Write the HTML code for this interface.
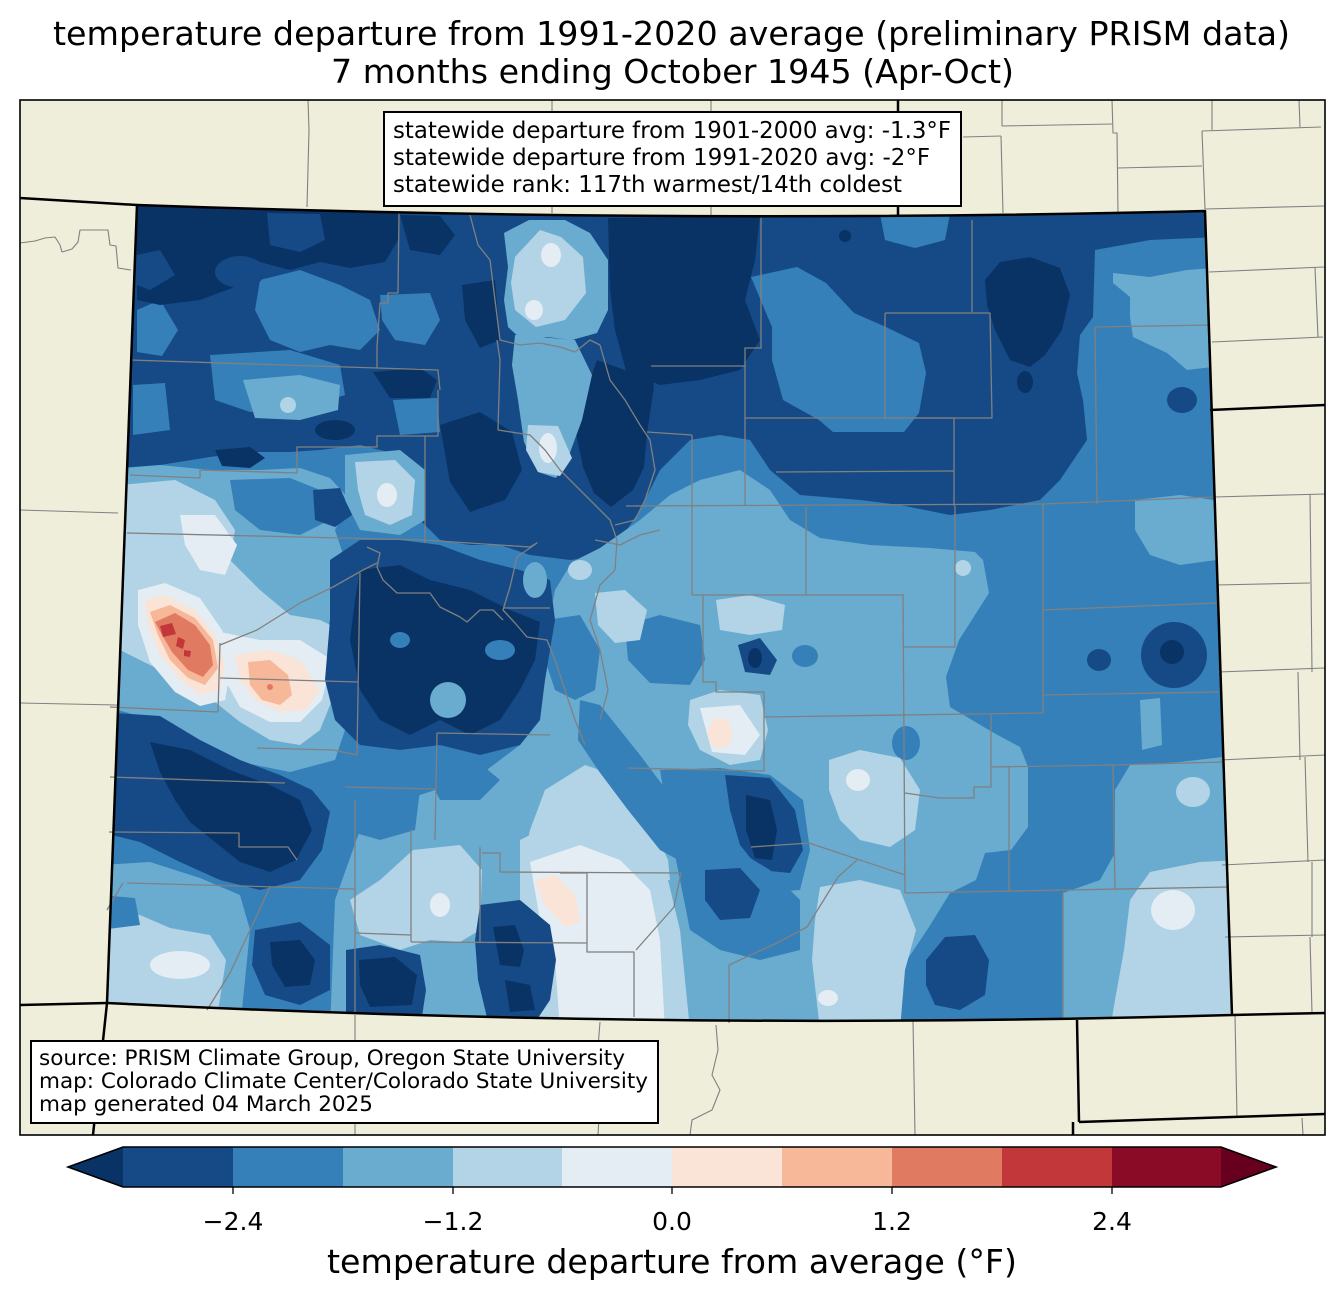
<!DOCTYPE html>
<html><head><meta charset="utf-8"><style>
html,body{margin:0;padding:0;background:#fff;}
svg{display:block;}
text{font-family:"DejaVu Sans","Liberation Sans",sans-serif;fill:#000;}
</style></head><body>
<svg xmlns="http://www.w3.org/2000/svg" width="1344" height="1299" viewBox="0 0 1344 1299">
<rect width="1344" height="1299" fill="#fff"/>
<text x="671.5" y="45" font-size="33" text-anchor="middle" textLength="1237" lengthAdjust="spacingAndGlyphs">temperature departure from 1991-2020 average (preliminary PRISM data)</text>
<text x="672.5" y="83" font-size="33" text-anchor="middle" textLength="683" lengthAdjust="spacingAndGlyphs">7 months ending October 1945 (Apr-Oct)</text>
<rect x="20" y="100" width="1305" height="1035" fill="#efeedb"/>
<defs><clipPath id="co"><path d="M137,205 Q671,224 1205,211 L1232,1015 Q671,1031 107,1003 Z"/></clipPath></defs>
<g clip-path="url(#co)">
<rect x="90" y="190" width="1160" height="850" fill="#3580b9"/>
<!-- L1 north -->
<polygon fill="#164a86" points="90,190 1240,190 1240,236 1150,240 1095,250 1093,317 1080,335 1077,373 1083,400 1087,440 1060,480 1040,500 990,510 950,515 900,505 860,500 800,495 770,470 750,440 720,435 690,440 660,470 640,510 610,555 570,560 530,555 500,545 470,545 440,540 420,520 400,455 360,445 320,450 290,452 250,452 210,457 160,465 90,470"/>
<!-- L2 north patches -->
<g fill="#3580b9">
<polygon points="260,280 300,270 340,285 370,300 380,330 360,350 330,345 300,352 270,340 255,310"/>
<polygon points="137,310 160,300 178,330 162,356 137,352"/>
<polygon points="210,355 290,350 340,365 345,395 300,410 250,412 215,400"/>
<polygon points="133,385 165,383 170,430 133,435"/>
<polygon points="393,400 437,398 440,432 400,435"/>
<polygon points="380,295 430,293 440,320 425,345 395,340 382,320"/>
<polygon points="751,277 797,267 826,283 854,313 886,327 919,343 926,373 919,413 904,432 833,432 819,420 783,400 772,360 772,327"/>
<polygon points="880,214 950,214 945,240 915,248 885,240"/>
</g>
<!-- L0 north -->
<g fill="#093265">
<polygon points="137,205 400,213 398,240 385,262 350,268 320,262 290,270 260,262 240,285 200,300 160,305 137,300"/>
<polygon points="400,215 440,216 455,235 440,255 410,250"/>
<polygon points="462,285 495,280 500,340 480,348 465,320"/>
<polygon points="373,372 420,368 437,380 430,398 390,398"/>
<polygon points="215,450 250,447 265,458 250,468 222,466"/>
<ellipse cx="335" cy="430" rx="20" ry="10"/>
<polygon points="440,425 480,412 512,432 522,470 505,500 470,512 450,482"/>
<polygon points="608,218 760,216 755,260 745,300 760,340 740,370 700,380 660,385 626,371 615,330 610,290"/>
<polygon points="597,360 633,373 651,367 654,387 647,433 644,467 633,490 611,507 594,493 583,467 576,433 579,400 590,380"/>
<polygon points="985,280 1000,262 1030,257 1060,268 1070,295 1062,330 1045,355 1030,367 1010,360 995,330 987,305"/>
<ellipse cx="1025" cy="382" rx="8" ry="11"/>
<circle cx="845" cy="236" r="6"/>
</g>
<!-- L1 patches in NW dark band -->
<g fill="#164a86">
<polygon points="267,213 320,214 325,240 300,252 270,245"/>
<ellipse cx="240" cy="272" rx="25" ry="16"/>
<polygon points="137,255 160,250 175,275 150,290 137,285"/>
</g>
<!-- NE light -->
<polygon fill="#6aacd0" points="1113,273 1150,277 1187,270 1212,268 1212,367 1187,370 1167,353 1133,337 1130,317 1130,297 1113,283"/>
<ellipse fill="#164a86" cx="1182" cy="400" rx="15" ry="13"/>
<!-- plume -->
<g fill="#6aacd0">
<polygon points="504,233 529,220 565,220 590,233 608,260 608,310 597,333 572,340 547,337 522,340 508,327 504,300 508,267"/>
<polygon points="515,335 575,340 592,375 582,420 568,458 556,478 538,472 524,442 518,400 512,365"/>
<polygon points="243,380 300,375 340,385 338,410 300,420 255,418"/>
</g>
<g fill="#b3d4e6">
<polygon points="515,257 540,230 561,237 583,257 586,293 565,320 536,327 515,310 511,283"/>
<polygon points="528,425 558,426 572,458 560,476 538,472 526,450"/>
<ellipse cx="288" cy="405" rx="8" ry="8"/>
</g>
<g fill="#e3edf3">
<ellipse cx="551" cy="255" rx="10" ry="12"/>
<ellipse cx="534" cy="310" rx="9" ry="10"/>
<ellipse cx="548" cy="448" rx="9" ry="15"/>
</g>
<!-- central-east L3 -->
<polygon fill="#6aacd0" points="600,548 640,520 670,495 700,480 740,470 770,490 790,520 820,538 870,545 930,548 975,552 983,560 989,593 959,640 946,677 950,707 994,733 1020,747 1028,767 1028,827 1011,850 985,853 976,880 950,893 929,927 907,960 894,993 894,1030 330,1030 335,900 360,830 420,795 480,775 520,745 540,700 545,640 555,590 572,562"/>
<!-- east -->
<g fill="#6aacd0">
<polygon points="1135,500 1180,495 1214,500 1216,560 1180,565 1150,555 1135,530"/>
<polygon points="1240,755 1180,762 1130,765 1115,790 1115,853 1100,880 1063,893 1063,1030 1240,1030"/>
<polygon points="1140,700 1160,698 1162,745 1142,750"/>
</g>
<g fill="#b3d4e6">
<polygon points="1240,860 1200,862 1150,872 1130,900 1124,950 1115,1000 1110,1030 1240,1030"/>
<ellipse cx="1193" cy="792" rx="17" ry="15"/>
<ellipse cx="963" cy="568" rx="8" ry="8"/>
</g>
<ellipse fill="#e3edf3" cx="1173" cy="910" rx="22" ry="20"/>
<g fill="#164a86">
<ellipse cx="1174" cy="655" rx="33" ry="33"/>
<ellipse cx="1099" cy="660" rx="12" ry="11"/>
<polygon points="926,960 945,937 975,935 989,960 985,995 960,1010 935,1005 926,985"/>
</g>
<ellipse fill="#093265" cx="1172" cy="652" rx="12" ry="12"/>
<!-- central features -->
<g fill="#3580b9">
<polygon points="625,625 660,615 700,625 705,660 690,685 650,683 628,660"/>
<ellipse cx="805" cy="656" rx="13" ry="11"/>
<ellipse cx="906" cy="743" rx="14" ry="17"/>
<polygon points="660,770 720,768 770,775 803,800 810,850 800,890 760,893 720,880 690,860 670,830 665,800"/>
<polygon points="545,620 580,615 600,650 595,690 575,700 555,690 545,660"/>
</g>
<g fill="#b3d4e6">
<polygon points="716,600 750,595 785,605 782,630 750,635 720,630"/>
<polygon points="690,700 720,690 760,695 768,730 760,760 730,765 700,750 688,725"/>
<polygon points="829,760 860,750 900,758 920,790 915,830 890,847 860,840 840,820 829,790"/>
<polygon points="595,593 625,590 647,610 640,640 615,643 598,625"/>
<ellipse cx="580" cy="570" rx="12" ry="10"/>
<polygon points="545,790 585,765 615,775 645,810 668,860 670,880 520,880 530,830"/>
</g>
<polygon fill="#3580b9" points="580,700 600,705 640,755 670,795 692,840 682,862 660,850 628,810 598,770 578,740"/>
<g fill="#164a86">
<polygon points="738,645 760,638 777,660 770,675 745,672"/>
<polygon points="725,775 770,778 795,810 803,850 790,873 760,870 740,845 730,810"/>
</g>
<g fill="#093265">
<ellipse cx="755" cy="658" rx="7" ry="10"/>
<polygon points="746,795 770,800 777,830 772,860 755,858 746,830"/>
</g>
<polygon fill="#e3edf3" points="700,708 740,705 760,735 745,755 712,752"/>
<ellipse fill="#f9e4d7" cx="720" cy="733" rx="12" ry="15"/>
<ellipse fill="#e3edf3" cx="858" cy="780" rx="12" ry="11"/>
<!-- south -->
<polygon fill="#b3d4e6" points="520,840 560,820 600,828 640,850 668,880 680,930 690,1030 500,1030 510,960 520,900"/>
<polygon fill="#e3edf3" points="530,862 580,845 620,860 650,890 660,940 665,1030 560,1030 555,960 540,920"/>
<polygon fill="#f9e4d7" points="535,880 555,875 575,895 580,922 565,927 545,905"/>
<polygon fill="#b3d4e6" points="413,850 460,845 482,870 480,930 460,942 430,940 400,950 360,935 350,900 380,880"/>
<ellipse fill="#e3edf3" cx="440" cy="905" rx="10" ry="12"/>
<polygon fill="#3580b9" points="670,830 720,840 770,870 800,900 800,950 760,960 720,950 690,930 680,880"/>
<polygon fill="#164a86" points="705,870 740,868 760,890 750,918 720,920 705,900"/>
<polygon fill="#b3d4e6" points="820,887 860,880 900,890 916,930 905,970 900,1030 820,1030 812,960 815,920"/>
<ellipse fill="#e3edf3" cx="828" cy="998" rx="10" ry="8"/>
<g fill="#3580b9">
<polygon points="340,780 380,770 420,790 415,830 380,840 345,830"/>
<polygon points="420,760 470,755 500,780 480,800 440,800"/>
</g>
<!-- west light -->
<polygon fill="#6aacd0" points="100,470 160,465 210,470 260,470 300,468 330,478 350,500 335,530 345,560 335,600 325,640 335,690 345,730 335,760 290,772 240,762 200,742 160,722 100,705"/>
<polygon fill="#3580b9" points="230,480 290,478 320,490 330,520 300,535 260,530 235,510"/>
<polygon fill="#164a86" points="313,490 340,488 352,515 335,527 315,520"/>
<polygon fill="#6aacd0" points="345,455 400,450 425,470 425,520 400,535 360,530 345,500"/>
<polygon fill="#b3d4e6" points="355,462 395,460 415,480 412,515 390,525 365,515 358,490"/>
<ellipse fill="#e3edf3" cx="387" cy="495" rx="10" ry="12"/>
<polygon fill="#b3d4e6" points="120,485 175,480 215,500 235,530 230,560 260,590 290,615 320,620 345,632 332,652 332,700 320,730 300,745 270,740 240,722 215,702 190,690 160,670 120,650"/>
<g fill="#e3edf3">
<polygon points="180,515 215,515 237,545 225,575 200,570 185,545"/>
<polygon points="138,590 165,583 200,598 222,630 232,662 225,700 200,706 175,692 150,662 138,625"/>
<polygon points="220,632 260,640 300,640 332,660 322,700 300,722 270,722 240,707 225,680"/>
</g>
<g fill="#f9e4d7">
<polygon points="145,600 165,595 195,610 215,635 225,665 220,690 200,695 180,680 160,655 148,625"/>
<polygon points="235,655 270,650 300,660 320,690 305,710 280,712 255,700 240,680"/>
</g>
<g fill="#f7b799">
<polygon points="150,612 170,605 195,618 213,640 218,668 205,685 188,678 170,660 158,635"/>
<polygon points="248,662 270,660 288,675 292,695 280,705 262,700 250,685"/>
</g>
<polygon fill="#e07b62" points="155,622 175,613 195,625 210,645 213,665 203,677 188,670 172,652 162,635"/>
<circle fill="#e07b62" cx="270" cy="687" r="3"/>
<g fill="#c1373a">
<polygon points="160,626 172,623 176,634 163,637"/>
<polygon points="178,637 185,640 183,649 176,646"/>
<polygon points="184,650 191,651 190,657 184,656"/>
</g>
<!-- central-west dark -->
<polygon fill="#164a86" points="330,560 360,540 400,540 440,545 480,560 520,570 550,580 555,620 545,680 540,720 520,745 480,755 440,745 400,750 360,745 335,720 325,680 330,620"/>
<polygon fill="#093265" points="360,570 400,565 430,580 470,590 510,610 540,622 535,660 520,690 500,720 470,735 440,720 410,735 380,720 360,690 350,640 355,600"/>
<ellipse fill="#6aacd0" cx="448" cy="700" rx="18" ry="18"/>
<ellipse fill="#3580b9" cx="500" cy="650" rx="15" ry="10"/>
<ellipse fill="#3580b9" cx="400" cy="640" rx="10" ry="8"/>
<ellipse fill="#6aacd0" cx="535" cy="580" rx="12" ry="18"/>
<!-- SW dark -->
<polygon fill="#164a86" points="100,712 160,716 200,740 240,760 280,775 312,790 330,812 322,850 300,880 260,890 220,880 180,862 140,842 100,832"/>
<polygon fill="#093265" points="150,742 190,750 230,770 270,785 300,800 312,830 296,860 270,872 240,862 215,842 190,822 175,800 160,772"/>
<!-- SW bottom -->
<polygon fill="#6aacd0" points="100,865 150,862 200,878 240,895 250,930 240,1030 100,1030"/>
<polygon fill="#b3d4e6" points="100,920 140,915 170,928 210,935 226,960 215,1030 100,1030"/>
<ellipse fill="#e3edf3" cx="180" cy="965" rx="30" ry="14"/>
<polygon fill="#3580b9" points="100,895 135,898 140,925 100,930"/>
<polygon fill="#164a86" points="255,930 300,922 330,945 330,990 300,1005 265,995 252,965"/>
<polygon fill="#093265" points="270,942 300,940 315,960 310,985 285,987 272,965"/>
<!-- south dark blobs -->
<g fill="#164a86">
<polygon points="480,905 520,900 550,925 556,960 550,1000 530,1030 490,1030 478,980 475,940"/>
<polygon points="346,950 380,945 420,955 426,990 420,1030 346,1030"/>
</g>
<g fill="#093265">
<polygon points="493,927 515,925 524,950 520,967 500,965"/>
<polygon points="505,980 530,985 535,1010 510,1012"/>
<polygon points="359,960 395,957 417,975 412,1005 370,1007 360,985"/>
</g>
</g>
<!-- county lines inside CO -->
<g fill="none" stroke="#808080" stroke-width="1.3" stroke-linejoin="round">
<polyline points="130,360 377,368 438,370 440,390"/>
<polyline points="377,368 377,347 380,303 388,303 388,293 398,293 399,213"/>
<polyline points="130,475 200,478 200,470 297,473 297,447 377,447 377,436 438,436 438,390"/>
<polyline points="425,436 425,543"/>
<polyline points="127,533 300,537 423,540 530,547"/>
<polyline points="530,547 537,543 517,557 510,587 503,610 515,623 527,637 547,640 555,660 565,690 575,720 585,745"/>
<polyline points="503,608 550,608"/>
<polyline points="367,547 380,553 377,567 383,580 397,593 430,593 440,607 460,617 467,622 480,610 493,610 503,620"/>
<polyline points="360,573 357,755"/>
<polyline points="220,645 257,630 300,603 333,587 363,570 377,563"/>
<polyline points="220,643 218,712"/>
<polyline points="110,707 218,712"/>
<polyline points="220,678 358,682"/>
<polyline points="110,777 285,783"/>
<polyline points="257,748 333,750 357,755"/>
<polyline points="437,733 550,735"/>
<polyline points="437,733 435,840"/>
<polyline points="345,787 435,789"/>
<polyline points="109,832 239,833 239,847 288,847 297,860"/>
<polyline points="127,883 355,889"/>
<polyline points="123,883 107,910"/>
<polyline points="355,800 355,1013"/>
<polyline points="355,933 411,935"/>
<polyline points="411,830 411,942"/>
<polyline points="411,942 587,943"/>
<polyline points="480,847 480,942"/>
<polyline points="482,853 500,853 500,872 681,873"/>
<polyline points="587,873 587,952 634,952 634,1017"/>
<polyline points="681,873 674,907 636,950"/>
<polyline points="270,887 250,930 230,973 207,1010"/>
<polyline points="761,218 761,348 745,348 745,506"/>
<polyline points="651,366 745,366"/>
<polyline points="885,313 990,313 992,418 885,418 885,313"/>
<polyline points="972,220 972,312"/>
<polyline points="745,418 954,418 954,506"/>
<polyline points="776,472 954,471"/>
<polyline points="692,435 692,595"/>
<polyline points="647,432 692,435"/>
<polyline points="626,506 1043,504 1213,497"/>
<polyline points="806,507 806,595"/>
<polyline points="692,595 904,595"/>
<polyline points="1043,504 1043,713"/>
<polyline points="1043,610 1217,603"/>
<polyline points="1043,695 1219,692"/>
<polyline points="1095,327 1210,325"/>
<polyline points="1095,327 1097,504"/>
<polyline points="955,506 955,647 903,647"/>
<polyline points="903,595 905,893"/>
<polyline points="703,595 703,682 716,682 716,692 764,692 764,771"/>
<polyline points="764,717 1043,713"/>
<polyline points="991,715 991,787 974,787 974,798 939,798 905,793"/>
<polyline points="991,767 1113,765 1223,762"/>
<polyline points="1009,767 1009,892"/>
<polyline points="1113,765 1115,890"/>
<polyline points="905,893 1228,887"/>
<polyline points="1063,892 1063,1020"/>
<polyline points="627,768 764,771"/>
<polyline points="751,847 809,843 905,875"/>
<polyline points="560,873 587,873"/>
<polyline points="857,860 838,877 807,927 777,943 729,965 729,1023"/>
<polyline points="470,215 478,245 490,260 495,300 500,340 520,345 540,343 560,347 575,352 590,340 600,345"/>
<polyline points="600,345 610,380 625,400 640,425 650,440"/>
<polyline points="497,340 500,360 498,430 530,435 545,450 560,470 575,485 590,500 600,510 610,520 617,540 615,570"/>
<polyline points="595,540 620,545 640,535 660,530"/>
<polyline points="650,440 655,470 645,500 635,520 615,525"/>
<polyline points="615,570 600,585 590,620 600,650 608,690 600,720"/>
</g>
<!-- county lines outside -->
<g fill="none" stroke="#808080" stroke-width="1.1" stroke-linejoin="round">
<polyline points="308,100 309,130 307,207"/>
<polyline points="552,100 552,213"/>
<polyline points="711,100 711,216"/>
<polyline points="963,137 1001,136"/>
<polyline points="1002,100 1002,126 1112,124"/>
<polyline points="1001,136 1003,213"/>
<polyline points="1112,100 1113,133 1117,133 1118,213"/>
<polyline points="1118,168 1202,166"/>
<polyline points="1202,131 1321,127"/>
<polyline points="1202,131 1205,209"/>
<polyline points="1212,100 1212,130"/>
<polyline points="1299,100 1300,127"/>
<polyline points="1205,209 1324,206"/>
<polyline points="1209,272 1324,267"/>
<polyline points="1315,268 1318,337"/>
<polyline points="1212,342 1323,337"/>
<polyline points="1214,497 1325,494"/>
<polyline points="1216,585 1310,583"/>
<polyline points="1310,494 1312,672"/>
<polyline points="1218,672 1325,668"/>
<polyline points="1298,672 1300,760"/>
<polyline points="1220,760 1325,755"/>
<polyline points="1305,757 1308,862"/>
<polyline points="1222,865 1325,860"/>
<polyline points="1225,937 1325,935"/>
<polyline points="1312,862 1312,937"/>
<polyline points="1310,937 1312,1013"/>
<polyline points="20,243 35,241 45,238 55,237 60,245 62,252 72,249 78,242 80,230 108,230 110,245 116,246 118,268 131,270"/>
<polyline points="20,510 118,513"/>
<polyline points="20,703 117,705"/>
<polyline points="355,1015 355,1135"/>
<polyline points="600,1022 597,1060 600,1100 598,1135"/>
<polyline points="716,1025 718,1050 712,1075 720,1090 712,1110 692,1120 690,1135"/>
<polyline points="913,1020 915,1135"/>
<polyline points="1235,1016 1237,1118"/>
<polyline points="1302,1118 1303,1135"/>
</g>
<!-- state borders -->
<g fill="none" stroke="#000" stroke-width="2.5" stroke-linejoin="round">
<path d="M137,205 Q671,224 1205,211 L1232,1015 Q671,1031 107,1003 Z"/>
<polyline points="20,198 137,205"/>
<polyline points="898,100 898,215"/>
<polyline points="1210,410 1325,405"/>
<polyline points="20,1005 107,1003"/>
<polyline points="107,1003 93,1135"/>
<polyline points="1232,1015 1325,1013"/>
<polyline points="1077,1020 1079,1122"/>
<polyline points="1079,1122 1325,1114"/>
<polyline points="1073,1122 1073,1135"/>
</g>
<rect x="20" y="100" width="1305" height="1035" fill="none" stroke="#000" stroke-width="1.6"/>
<!-- stats box -->
<rect x="384" y="112" width="577" height="94" fill="#fff" stroke="#000" stroke-width="2"/>
<text x="393" y="138" font-size="22.8" textLength="558" lengthAdjust="spacingAndGlyphs">statewide departure from 1901-2000 avg: -1.3°F</text>
<text x="393" y="165" font-size="22.8" textLength="537" lengthAdjust="spacingAndGlyphs">statewide departure from 1991-2020 avg: -2°F</text>
<text x="393" y="192" font-size="22.8" textLength="509" lengthAdjust="spacingAndGlyphs">statewide rank: 117th warmest/14th coldest</text>
<!-- source box -->
<rect x="31" y="1041" width="627" height="82" fill="#fff" stroke="#000" stroke-width="2"/>
<text x="39" y="1065" font-size="21.5" textLength="586" lengthAdjust="spacingAndGlyphs">source: PRISM Climate Group, Oregon State University</text>
<text x="39" y="1088" font-size="21.5" textLength="609" lengthAdjust="spacingAndGlyphs">map: Colorado Climate Center/Colorado State University</text>
<text x="39" y="1111" font-size="21.5" textLength="334" lengthAdjust="spacingAndGlyphs">map generated 04 March 2025</text>
<!-- colorbar -->
<polygon points="68,1167 123,1147 123,1187" fill="#093265"/>
<rect x="123" y="1147" width="110" height="40" fill="#164a86"/>
<rect x="233" y="1147" width="110" height="40" fill="#3580b9"/>
<rect x="343" y="1147" width="110" height="40" fill="#6aacd0"/>
<rect x="453" y="1147" width="110" height="40" fill="#b3d4e6"/>
<rect x="562" y="1147" width="110" height="40" fill="#e3edf3"/>
<rect x="672" y="1147" width="110" height="40" fill="#f9e4d7"/>
<rect x="782" y="1147" width="110" height="40" fill="#f7b799"/>
<rect x="892" y="1147" width="110" height="40" fill="#e07b62"/>
<rect x="1002" y="1147" width="110" height="40" fill="#c1373a"/>
<rect x="1112" y="1147" width="109" height="40" fill="#8a0b25"/>
<polygon points="1221,1147 1276,1167 1221,1187" fill="#67001f"/>
<polygon points="68,1167 123,1147 1221,1147 1276,1167 1221,1187 123,1187" fill="none" stroke="#000" stroke-width="1.6"/>
<g stroke="#000" stroke-width="1.3">
<line x1="233" y1="1187" x2="233" y2="1194"/>
<line x1="453" y1="1187" x2="453" y2="1194"/>
<line x1="672" y1="1187" x2="672" y2="1194"/>
<line x1="892" y1="1187" x2="892" y2="1194"/>
<line x1="1112" y1="1187" x2="1112" y2="1194"/>
</g>
<g font-size="25" text-anchor="middle">
<text x="233" y="1230">−2.4</text>
<text x="453" y="1230">−1.2</text>
<text x="672" y="1230">0.0</text>
<text x="892" y="1230">1.2</text>
<text x="1112" y="1230">2.4</text>
</g>
<text x="672" y="1273" font-size="33" text-anchor="middle" textLength="690" lengthAdjust="spacingAndGlyphs">temperature departure from average (°F)</text>
</svg>
</body></html>
